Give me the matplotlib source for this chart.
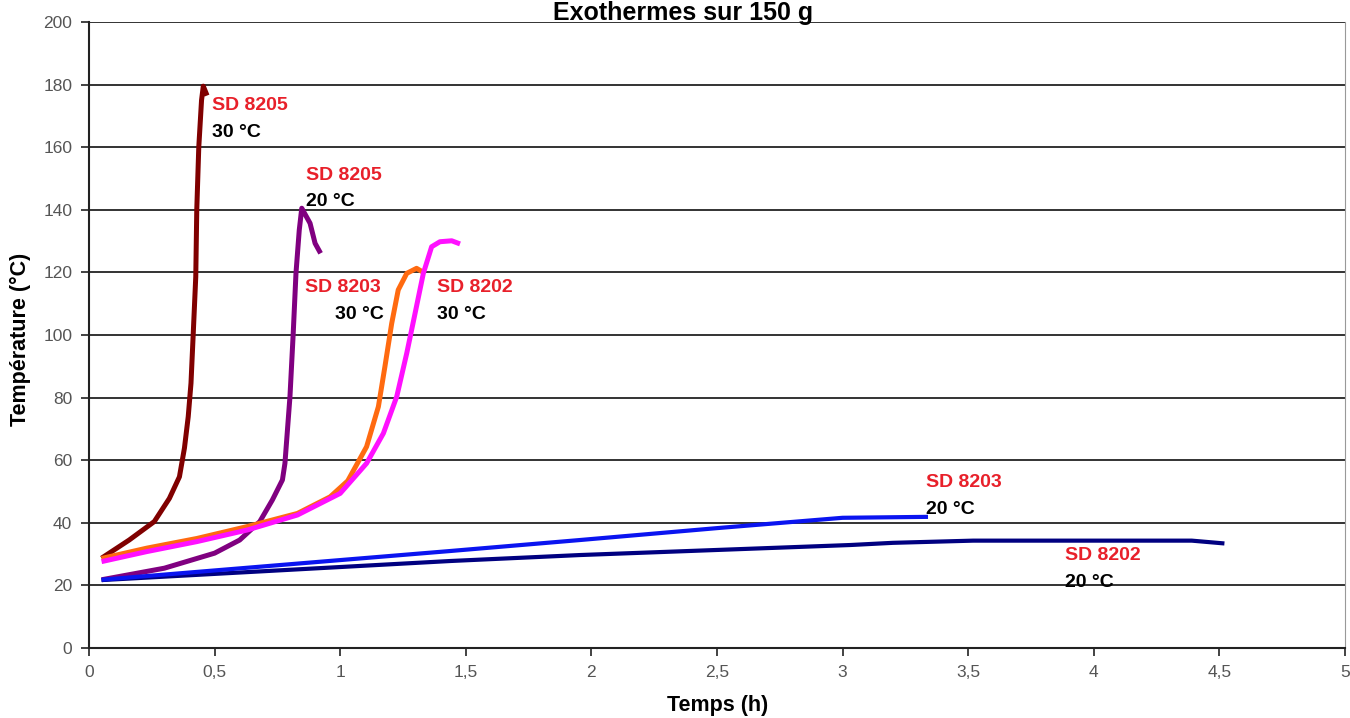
import numpy as np
import matplotlib.pyplot as plt

plt.rcParams['font.family'] = ['Liberation Sans', 'DejaVu Sans']

# temps [h] et température [°C]
t_8205_30 = [0.05, 0.16, 0.26, 0.32, 0.36, 0.38, 0.395, 0.406, 0.415, 0.425, 0.429, 0.437, 0.448, 0.455, 0.47]
T_8205_30 = [28.7, 34.5, 40.4, 47.8, 54.7, 63.9, 73.9, 84.6, 100.5, 118.6, 140.0, 160.0, 175.0, 179.5, 176.5]

t_8205_20 = [0.05, 0.30, 0.50, 0.60, 0.68, 0.73, 0.77, 0.78, 0.80, 0.813, 0.824, 0.837, 0.847, 0.88, 0.90, 0.922]
T_8205_20 = [21.8, 25.5, 30.3, 34.5, 40.4, 47.3, 53.7, 59.0, 80.3, 100.6, 119.8, 133.5, 140.5, 135.7, 129.3, 126.1]

t_8203_30 = [0.05, 0.23, 0.43, 0.63, 0.83, 0.96, 1.03, 1.105, 1.152, 1.178, 1.205, 1.231, 1.265, 1.304, 1.338]
T_8203_30 = [28.6, 31.9, 35.0, 38.8, 43.0, 48.3, 53.4, 64.3, 77.1, 89.9, 103.7, 114.4, 119.7, 121.3, 119.7]

t_8202_30 = [0.05, 0.23, 0.43, 0.63, 0.83, 1.0, 1.105, 1.172, 1.225, 1.265, 1.298, 1.331, 1.364, 1.397, 1.444, 1.477]
T_8202_30 = [27.6, 30.8, 34.0, 37.7, 42.5, 49.4, 59.0, 68.6, 80.3, 94.2, 106.9, 119.7, 128.2, 129.8, 130.1, 129.1]

t_8203_20 = [0.05, 1.44, 1.955, 2.5, 3.0, 3.34]
T_8203_20 = [21.8, 31.0, 34.5, 38.3, 41.6, 41.9]

t_8202_20 = [0.05, 1.44, 1.955, 3.03, 3.2, 3.52, 4.39, 4.52]
T_8202_20 = [21.7, 27.8, 29.7, 32.9, 33.6, 34.3, 34.3, 33.4]

series = [
    (t_8205_30, T_8205_30, '#800000', 3.6),
    (t_8205_20, T_8205_20, '#800080', 3.6),
    (t_8202_20, T_8202_20, '#000080', 3.0),
    (t_8203_20, T_8203_20, '#0a14f0', 3.0),
    (t_8203_30, T_8203_30, '#ff6a10', 3.6),
    (t_8202_30, T_8202_30, '#ff10ff', 3.6),
]

# étiquettes : (x, y, produit, x, y, température)
labels = [
    (0.488, 173.3, 'SD 8205', 0.488, 164.6, '30 °C'),
    (0.864, 151.0, 'SD 8205', 0.864, 142.5, '20 °C'),
    (0.860, 115.2, 'SD 8203', 0.979, 106.5, '30 °C'),
    (1.384, 115.2, 'SD 8202', 1.384, 106.5, '30 °C'),
    (3.332, 52.9, 'SD 8203', 3.332, 44.2, '20 °C'),
    (3.885, 29.6, 'SD 8202', 3.885, 20.9, '20 °C'),
]

xticks = [0, 0.5, 1, 1.5, 2, 2.5, 3, 3.5, 4, 4.5, 5]
xticklabels = ['0', '0,5', '1', '1,5', '2', '2,5', '3', '3,5', '4', '4,5', '5']
yticks = list(range(0, 201, 20))

fig = plt.figure(figsize=(13.5, 7.18), dpi=100)
ax = fig.add_axes([89 / 1350, 1 - 648 / 718, (1345 - 89) / 1350, (648 - 22) / 718])

for t, T, c, lw in series:
    ax.plot(t, T, color=c, lw=lw, solid_capstyle='butt', solid_joinstyle='round', zorder=3)

for x1, y1, s1, x2, y2, s2 in labels:
    ax.text(x1, y1, s1, color='#e8202a', fontsize=14, fontweight='bold', va='center', ha='left', zorder=4)
    ax.text(x2, y2, s2, color='black', fontsize=14, fontweight='bold', va='center', ha='left', zorder=4)

ax.set_xlim(0, 5)
ax.set_ylim(0, 200)
ax.set_xticks(xticks)
ax.set_xticklabels(xticklabels)
ax.set_yticks(yticks)
ax.tick_params(axis='both', direction='out', length=6, width=1.2, color='#222222',
               labelsize=12.5, labelcolor='#555555', pad=6)
ax.yaxis.grid(True, color='#111111', lw=1.2)
ax.set_axisbelow(True)

ax.spines['left'].set_color('#222222')
ax.spines['left'].set_linewidth(1.5)
ax.spines['bottom'].set_color('#222222')
ax.spines['bottom'].set_linewidth(1.5)
ax.spines['right'].set_color('#999999')
ax.spines['top'].set_visible(False)

fig.text(20 / 1350, 1 - 339 / 718, 'Température (°C)', rotation=90, fontsize=15.5,
         fontweight='bold', ha='center', va='center')
fig.text(718 / 1350, 1 - 706 / 718, 'Temps (h)', fontsize=15.5, fontweight='bold',
         ha='center', va='center')
fig.text(683 / 1350, 1 - 20 / 718, 'Exothermes sur 150 g', fontsize=18, fontweight='bold',
         ha='center', va='baseline')

fig.savefig('out.png', dpi=100)
